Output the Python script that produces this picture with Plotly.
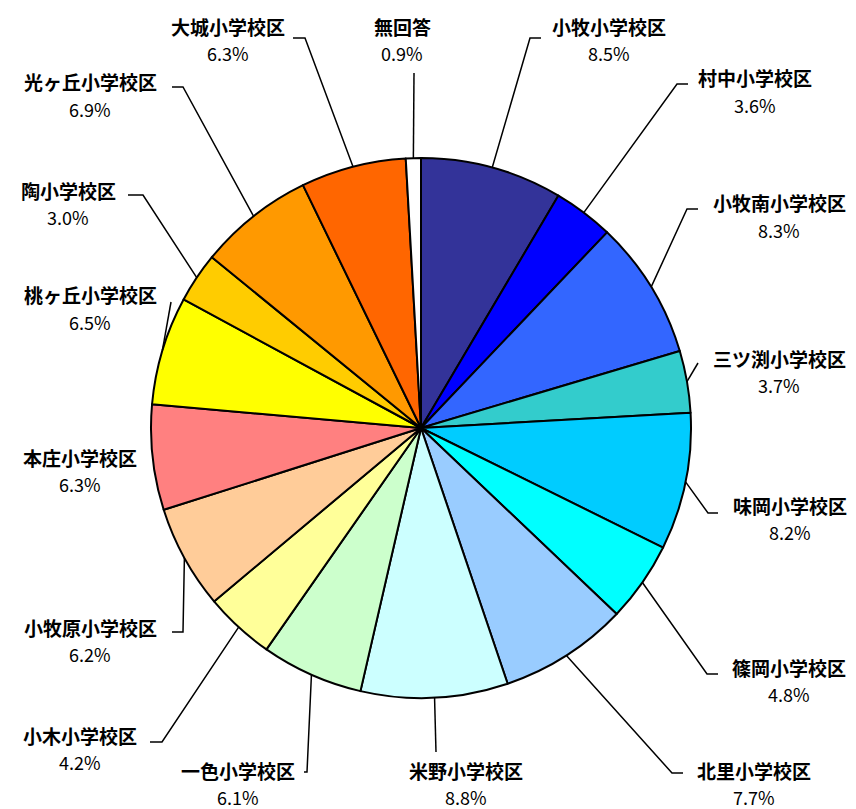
import math
import plotly.graph_objects as go

# ---- data ----
districts = ["小牧小学校区", "村中小学校区", "小牧南小学校区", "三ツ渕小学校区", "味岡小学校区",
             "篠岡小学校区", "北里小学校区", "米野小学校区", "一色小学校区", "小木小学校区",
             "小牧原小学校区", "本庄小学校区", "桃ヶ丘小学校区", "陶小学校区", "光ヶ丘小学校区",
             "大城小学校区", "無回答"]
shares = [8.5, 3.6, 8.3, 3.7, 8.2, 4.8, 7.7, 8.8, 6.1, 4.2, 6.2, 6.3, 6.5, 3.0, 6.9, 6.3, 0.9]

# ---- styles / layout (pixel positions) ----
colors = ["#333399", "#0000FF", "#3366FF", "#33CCCC", "#00CCFF", "#00FFFF", "#99CCFF",
          "#CCFFFF", "#CCFFCC", "#FFFF99", "#FFCC99", "#FF8080", "#FFFF00", "#FFCC00",
          "#FF9900", "#FF6600", "#FFFFFF"]
W, H = 856, 809
CX, CY, R = 421, 428, 270
# name-label centre, leader elbow, leader end (None = no leader)
label_pos = [(609, 26), (755, 78), (779, 203), (779, 358), (790, 505), (789, 667), (754, 770),
             (466, 770), (238, 770), (80, 735), (90, 627), (80, 457), (90, 295), (68, 190),
             (90, 82), (228, 26), (402, 26)]
elbows = [(530, 38), (677, 84), (687, 209), (698, 363), (708, 513), (707, 674), (672, 773),
          (436, 752), (307, 772), (162, 742), (183, 632), None, (171, 302), (143, 195),
          (183, 87), (305, 38), (414, 73)]
ends = [(541, 38), (688, 84), (698, 209), (698, 363), (718, 513), (718, 674), (683, 773),
        (436, 752), (304, 772), (150, 742), (172, 632), None, (171, 302), (128, 195),
        (172, 87), (293, 38), (414, 73)]
PCT_GAP = 27

FONT = "Noto Sans CJK JP"


def px(x):
    return x / W


def py(y):
    return 1 - y / H


fig = go.Figure(go.Pie(
    labels=districts, values=shares, sort=False, direction="clockwise", rotation=0,
    marker=dict(colors=colors, line=dict(color="#000000", width=2)),
    textinfo="none", hoverinfo="label+percent", showlegend=False,
    domain=dict(x=[px(CX - R), px(CX + R)], y=[py(CY + R), py(CY - R)]),
))

total = sum(shares)
cum = 0.0
shapes = []
annotations = []
for name, v, (lx, ly), el, en in zip(districts, shares, label_pos, elbows, ends):
    mid = (cum + v / 2) / total * 2 * math.pi
    cum += v
    sx = CX + R * math.sin(mid)
    sy = CY - R * math.cos(mid)
    if el is not None:
        path = f"M {px(sx)} {py(sy)} L {px(el[0])} {py(el[1])} L {px(en[0])} {py(en[1])}"
        shapes.append(dict(type="path", xref="paper", yref="paper", path=path,
                           line=dict(color="#000000", width=1.5)))
    annotations.append(dict(x=px(lx), y=py(ly), xref="paper", yref="paper",
                            text=f"<b>{name}</b>", showarrow=False,
                            xanchor="center", yanchor="middle",
                            font=dict(family=FONT, size=19, color="#000000")))
    annotations.append(dict(x=px(lx), y=py(ly + PCT_GAP), xref="paper", yref="paper",
                            text=f"{v:.1f}%", showarrow=False,
                            xanchor="center", yanchor="middle",
                            font=dict(family=FONT, size=18, color="#000000")))

fig.update_layout(
    width=W, height=H, margin=dict(l=0, r=0, t=0, b=0),
    paper_bgcolor="#FFFFFF", plot_bgcolor="#FFFFFF",
    shapes=shapes, annotations=annotations,
)
fig.write_html("out.html")
